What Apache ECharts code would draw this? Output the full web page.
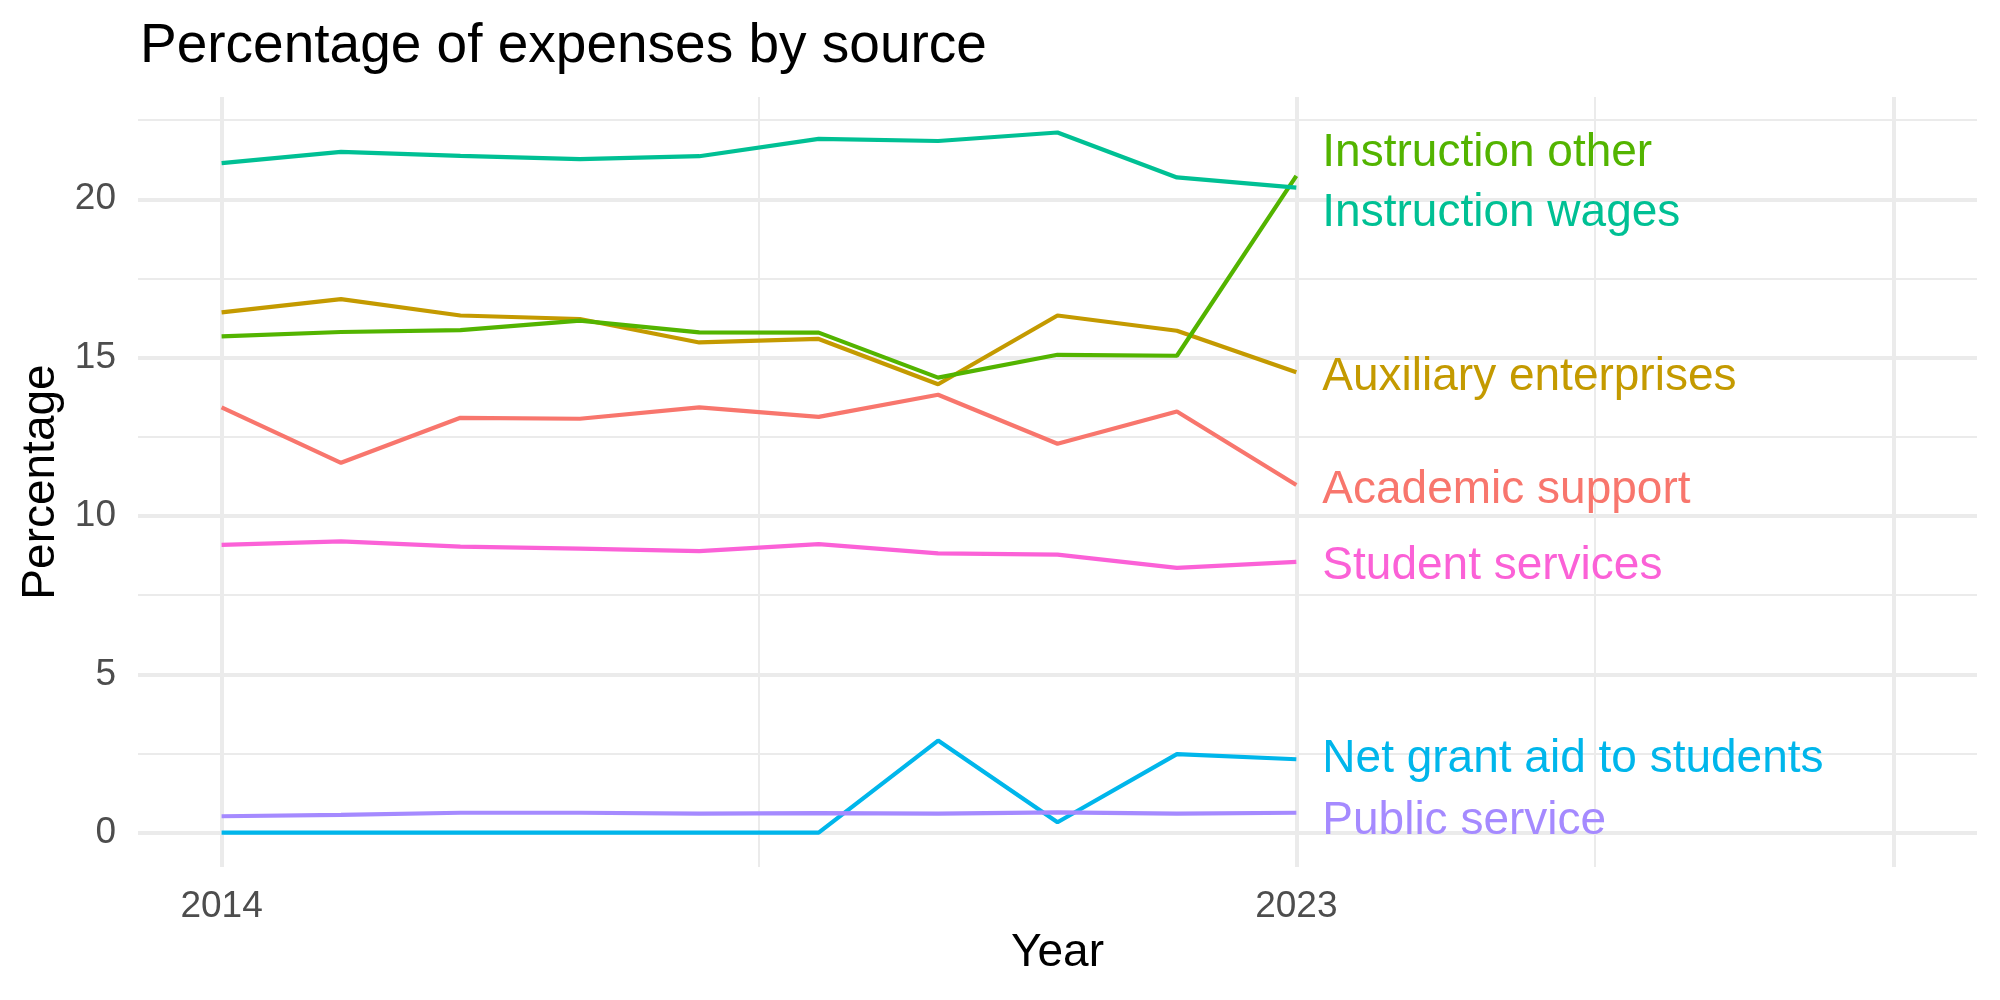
<!DOCTYPE html>
<html>
<head>
	<meta charset="utf-8" />
	<title>Percentage of expenses by source</title>
	<script type="text/javascript" src="https://cdn.jsdelivr.net/npm/echarts@6.0.0/dist/echarts.min.js"></script>
	<style>
		html, body { margin: 0; padding: 0; background: #ffffff; }
		#main { width: 2000px; height: 1000px; }
	</style>
</head>
<body>
	<div id="main"></div>
	<script type="text/javascript">
		// values
		var years = [2014, 2015, 2016, 2017, 2018, 2019, 2020, 2021, 2022, 2023];
		var academic_support = [13.43, 11.68, 13.10, 13.07, 13.43, 13.13, 13.83, 12.28, 13.30, 10.98];
		var auxiliary_enterprises = [16.43, 16.85, 16.33, 16.22, 15.48, 15.59, 14.16, 16.33, 15.85, 14.54];
		var instruction_other = [15.67, 15.81, 15.87, 16.17, 15.80, 15.79, 14.37, 15.09, 15.06, 20.74];
		var instruction_wages = [21.14, 21.50, 21.37, 21.27, 21.36, 21.91, 21.84, 22.11, 20.69, 20.37];
		var net_grant_aid = [0, 0, 0, 0, 0, 0, 2.91, 0.33, 2.48, 2.32];
		var public_service = [0.52, 0.56, 0.63, 0.63, 0.60, 0.62, 0.60, 0.64, 0.60, 0.63];
		var student_services = [9.09, 9.20, 9.03, 8.97, 8.89, 9.11, 8.82, 8.78, 8.36, 8.55];

		var source_names = ['Academic support', 'Auxiliary enterprises', 'Instruction other', 'Instruction wages',
			'Net grant aid to students', 'Public service', 'Student services'];
		var source_values = [academic_support, auxiliary_enterprises, instruction_other, instruction_wages,
			net_grant_aid, public_service, student_services];

		var y_breaks = [0, 5, 10, 15, 20];
		var y_minor = [2.5, 7.5, 12.5, 17.5, 22.5];
		var x_labels = [2014, 2023];
		var x_breaks = [2014, 2023, 2028];
		var x_minor = [2018.5, 2025.5];

		// ggplot hue palette + label nudges (px) like the repelled labels
		var palette = ['#F8766D', '#C49A00', '#53B400', '#00C094', '#00B6EB', '#A58AFF', '#FB61D7'];
		var label_dy = [5, 5, -23, 26, 0, 9, 4];

		var font = "'Liberation Sans', Arial, Helvetica, sans-serif";
		var grid_color = '#ebebeb';

		var grid_lines = [];
		y_breaks.forEach(function (v) { grid_lines.push({ yAxis: v, lineStyle: { width: 4 } }); });
		y_minor.forEach(function (v) { grid_lines.push({ yAxis: v, lineStyle: { width: 2 } }); });
		x_breaks.forEach(function (v) { grid_lines.push({ xAxis: v, lineStyle: { width: 4 } }); });
		x_minor.forEach(function (v) { grid_lines.push({ xAxis: v, lineStyle: { width: 2 } }); });

		var series = [{
			name: 'grid',
			type: 'line',
			data: [],
			z: 1,
			silent: true,
			markLine: {
				z: 1,
				silent: true,
				animation: false,
				symbol: ['none', 'none'],
				label: { show: false },
				lineStyle: { color: grid_color, type: 'solid' },
				emphasis: { disabled: true },
				data: grid_lines
			}
		}];

		source_names.forEach(function (name, i) {
			series.push({
				name: name,
				type: 'line',
				z: 3,
				showSymbol: false,
				symbol: 'none',
				smooth: false,
				lineStyle: { color: palette[i], width: 4.2 },
				itemStyle: { color: palette[i] },
				emphasis: { disabled: true },
				data: years.map(function (y, k) { return [y, source_values[i][k]]; }),
				endLabel: {
					show: true,
					formatter: name,
					color: palette[i],
					fontFamily: font,
					fontSize: 46,
					distance: 26,
					offset: [0, label_dy[i]],
					align: 'left',
					verticalAlign: 'middle'
				}
			});
		});

		var chart = echarts.init(document.getElementById('main'), null, { renderer: 'canvas' });
		var option = {
			animation: false,
			backgroundColor: '#ffffff',
			title: {
				text: 'Percentage of expenses by source',
				left: 140,
				top: 19,
				padding: 0,
				textStyle: { fontFamily: font, fontSize: 55, fontWeight: 'normal', color: '#000000' }
			},
			grid: { left: 138, right: 23, top: 97, bottom: 133, containLabel: false },
			xAxis: {
				type: 'value',
				min: 2013.3,
				max: 2028.7,
				name: 'Year',
				nameLocation: 'middle',
				nameGap: 63,
				nameTextStyle: { fontFamily: font, fontSize: 46, color: '#000000' },
				axisLine: { show: false },
				axisTick: { show: false },
				splitLine: { show: false },
				axisLabel: {
					customValues: x_labels,
					margin: 21,
					fontFamily: font,
					fontSize: 37,
					color: '#4d4d4d',
					formatter: function (v) { return String(v); }
				}
			},
			yAxis: {
				type: 'value',
				min: -1.083,
				max: 23.23,
				name: 'Percentage',
				nameLocation: 'middle',
				nameGap: 73,
				nameTextStyle: { fontFamily: font, fontSize: 46, color: '#000000' },
				axisLine: { show: false },
				axisTick: { show: false },
				splitLine: { show: false },
				axisLabel: {
					customValues: y_breaks,
					margin: 22,
					fontFamily: font,
					fontSize: 37,
					color: '#4d4d4d'
				}
			},
			series: series
		};
		chart.setOption(option);
	</script>
</body>
</html>
